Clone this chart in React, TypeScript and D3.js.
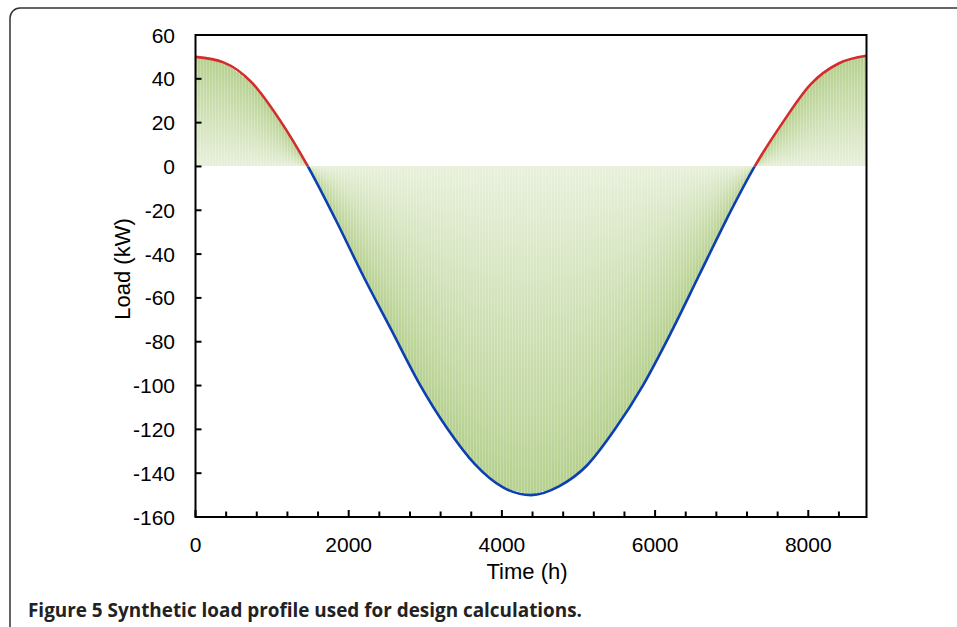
import React, { useEffect, useRef } from 'react';
import * as d3 from 'd3';

// synthetic load profile (hour of year -> kW)
const hours = [0, 365, 730, 1095, 1460, 1825, 2190, 2555, 2920, 3285, 3650, 4015, 4380,
  4745, 5110, 5475, 5840, 6205, 6570, 6935, 7300, 7665, 8030, 8395, 8760];
const load = [50, 47.5, 38.5, 21.5, 0.5, -24, -50, -74.5, -99, -119.5, -136, -146.5, -150,
  -146, -136.5, -120, -100, -76, -50, -24, 0, 20, 37.5, 47, 50.5];

const xTicks = [0, 2000, 4000, 6000, 8000];
const xMinorTicks = [400, 800, 1200, 1600, 2400, 2800, 3200, 3600, 4400, 4800, 5200, 5600,
  6400, 6800, 7200, 7600, 8400];
const yTicks = [60, 40, 20, 0, -20, -40, -60, -80, -100, -120, -140, -160];

const W = 957, H = 627;

export default function App() {
  const ref = useRef<SVGSVGElement>(null);

  useEffect(() => {
    document.body.style.margin = '0';
    const svg = d3.select(ref.current);
    svg.selectAll('*').remove();

    const x = d3.scaleLinear().domain([0, 8760]).range([195.5, 866.5]);
    const y = d3.scaleLinear().domain([-160, 60]).range([517, 35]);

    const defs = svg.append('defs');
    const gPos = defs.append('linearGradient').attr('id', 'gPos')
      .attr('x1', 0).attr('y1', 0).attr('x2', 0).attr('y2', 1);
    gPos.append('stop').attr('offset', 0).attr('stop-color', '#b6d08f');
    gPos.append('stop').attr('offset', 1).attr('stop-color', '#e8f0db');
    const gNeg = defs.append('linearGradient').attr('id', 'gNeg')
      .attr('x1', 0).attr('y1', 0).attr('x2', 0).attr('y2', 1);
    gNeg.append('stop').attr('offset', 0).attr('stop-color', '#e8f0db');
    gNeg.append('stop').attr('offset', 1).attr('stop-color', '#b6d08f');

    defs.append('clipPath').attr('id', 'clipPos').append('rect')
      .attr('x', 0).attr('y', 0).attr('width', W).attr('height', y(0));
    defs.append('clipPath').attr('id', 'clipNeg').append('rect')
      .attr('x', 0).attr('y', y(0)).attr('width', W).attr('height', H);

    // outer figure frame
    svg.append('rect')
      .attr('x', 10).attr('y', 8).attr('width', 1000).attr('height', 700)
      .attr('rx', 10).attr('fill', 'none').attr('stroke', '#333').attr('stroke-width', 1.5);

    // columns, interpolated between the read points, one per pixel
    const interp = (t: number) => {
      const i = Math.max(1, Math.min(d3.bisectRight(hours, t), hours.length - 1));
      const t0 = hours[i - 1], t1 = hours[i];
      return load[i - 1] + (load[i] - load[i - 1]) * (t - t0) / (t1 - t0);
    };
    const cols = d3.range(196, 866).map((px, i) => ({ px, i, v: interp(x.invert(px + 0.5)) }));
    svg.append('g').attr('shape-rendering', 'crispEdges')
      .selectAll('rect').data(cols).enter().append('rect')
      .attr('x', d => d.px)
      .attr('width', 1)
      .attr('y', d => d.v >= 0 ? y(d.v) : y(0))
      .attr('height', d => Math.abs(y(d.v) - y(0)))
      .attr('opacity', d => (d.i % 3 === 1 ? 0.78 : 1))
      .attr('fill', d => d.v >= 0 ? 'url(#gPos)' : 'url(#gNeg)');

    const pts: [number, number][] = hours.map((h, i) => [h, load[i]]);
    const line = d3.line<[number, number]>().x(d => x(d[0])).y(d => y(d[1]))
      .curve(d3.curveMonotoneX);
    svg.append('path').datum(pts).attr('d', line).attr('fill', 'none')
      .attr('stroke', '#d42b2e').attr('stroke-width', 2.6).attr('clip-path', 'url(#clipPos)');
    svg.append('path').datum(pts).attr('d', line).attr('fill', 'none')
      .attr('stroke', '#0c3fb0').attr('stroke-width', 2.6).attr('clip-path', 'url(#clipNeg)');

    // plot frame
    svg.append('rect')
      .attr('x', 195.5).attr('y', 35).attr('width', 671).attr('height', 482)
      .attr('fill', 'none').attr('stroke', '#000').attr('stroke-width', 2);

    const font = '"Liberation Sans", Arial, sans-serif';

    // x ticks (inside)
    svg.append('g').selectAll('line').data(xTicks).enter().append('line')
      .attr('x1', d => x(d)).attr('x2', d => x(d))
      .attr('y1', 517).attr('y2', 510).attr('stroke', '#000').attr('stroke-width', 2);
    svg.append('g').selectAll('line').data(xMinorTicks).enter().append('line')
      .attr('x1', d => x(d)).attr('x2', d => x(d))
      .attr('y1', 517).attr('y2', 511.5).attr('stroke', '#000').attr('stroke-width', 2);
    svg.append('g').selectAll('text').data(xTicks).enter().append('text')
      .attr('x', d => x(d)).attr('y', 552)
      .attr('text-anchor', 'middle').attr('font-family', font).attr('font-size', 21)
      .text(d => d);

    // y ticks (inside)
    svg.append('g').selectAll('line').data(yTicks).enter().append('line')
      .attr('x1', 195.5).attr('x2', 201.5)
      .attr('y1', d => y(d)).attr('y2', d => y(d)).attr('stroke', '#000').attr('stroke-width', 2);
    svg.append('g').selectAll('text').data(yTicks).enter().append('text')
      .attr('x', 175).attr('y', d => y(d) + 7.5)
      .attr('text-anchor', 'end').attr('font-family', font).attr('font-size', 21)
      .text(d => d);

    svg.append('text').attr('x', 527).attr('y', 579)
      .attr('text-anchor', 'middle').attr('font-family', font).attr('font-size', 22)
      .text('Time (h)');
    svg.append('text').attr('transform', 'translate(130,269) rotate(-90)')
      .attr('text-anchor', 'middle').attr('font-family', font).attr('font-size', 22)
      .text('Load (kW)');

    const cap = svg.append('text').attr('x', 28).attr('y', 617)
      .attr('font-family', '"Open Sans", sans-serif').attr('font-size', 18.9)
      .attr('font-weight', 'bold').attr('fill', '#222');
    cap.append('tspan').text('Figure 5');
    cap.append('tspan').text(' Synthetic load profile used for design calculations.');
  }, []);

  return <svg ref={ref} width={W} height={H} style={{ display: 'block', background: '#fff' }} />;
}
